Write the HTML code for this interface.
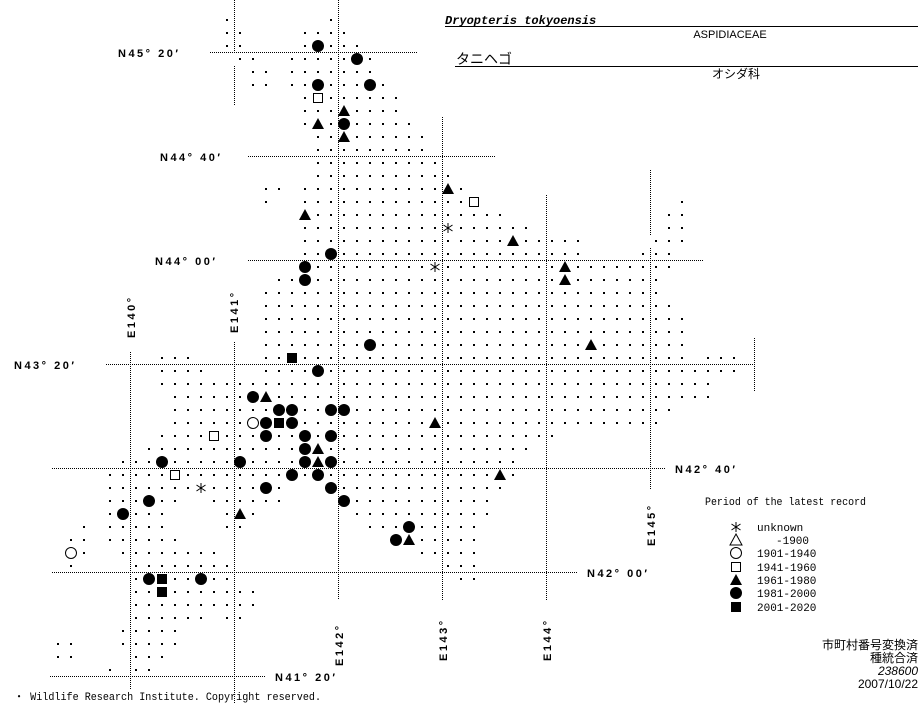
<!DOCTYPE html>
<html><head><meta charset="utf-8">
<style>
html,body{margin:0;padding:0;background:#fff;}
svg{display:block;}
.lab{font-family:"Liberation Sans",sans-serif;font-weight:bold;font-size:11px;letter-spacing:2.5px;fill:#000;}
.mono{font-family:"Liberation Mono",monospace;font-size:11px;fill:#000;}
.jp{font-family:"Liberation Sans","Noto Sans CJK JP",sans-serif;font-size:12px;fill:#000;}
</style></head>
<body>
<svg id="s" width="923" height="703" viewBox="0 0 923 703" xmlns="http://www.w3.org/2000/svg">
<g stroke="#000" stroke-width="1" stroke-dasharray="1 1" fill="none">
<line x1="210" y1="52.5" x2="418" y2="52.5"/>
<line x1="248" y1="156.5" x2="495" y2="156.5"/>
<line x1="248" y1="260.5" x2="703" y2="260.5"/>
<line x1="106" y1="364.5" x2="755" y2="364.5"/>
<line x1="52" y1="468.5" x2="665" y2="468.5"/>
<line x1="52" y1="572.5" x2="578" y2="572.5"/>
<line x1="50" y1="676.5" x2="265" y2="676.5"/>
<line x1="234.5" y1="0" x2="234.5" y2="52"/>
<line x1="234.5" y1="66" x2="234.5" y2="105"/>
<line x1="234.5" y1="342" x2="234.5" y2="703"/>
<line x1="130.5" y1="352" x2="130.5" y2="690"/>
<line x1="338.5" y1="0" x2="338.5" y2="600"/>
<line x1="442.5" y1="117" x2="442.5" y2="600"/>
<line x1="546.5" y1="195" x2="546.5" y2="600"/>
<line x1="650.5" y1="170" x2="650.5" y2="235"/>
<line x1="650.5" y1="248" x2="650.5" y2="490"/>
<line x1="754.5" y1="338" x2="754.5" y2="392"/>
</g>
<g id="dots" fill="#000"></g>
<g id="sym"></g>
<g class="lab">
<text x="118" y="57">N45° 20′</text>
<text x="160" y="161">N44° 40′</text>
<text x="155" y="265">N44° 00′</text>
<text x="14" y="369">N43° 20′</text>
<text x="675" y="473">N42° 40′</text>
<text x="587" y="577">N42° 00′</text>
<text x="275" y="681">N41° 20′</text>
<text transform="translate(135,338) rotate(-90)">E140°</text>
<text transform="translate(238,333) rotate(-90)">E141°</text>
<text transform="translate(343,666) rotate(-90)">E142°</text>
<text transform="translate(447,661) rotate(-90)">E143°</text>
<text transform="translate(551,661) rotate(-90)">E144°</text>
<text transform="translate(655,546) rotate(-90)">E145°</text>
</g>
<text x="445" y="24" style="font-family:'Liberation Mono',monospace;font-weight:bold;font-style:italic;font-size:12px;">Dryopteris tokyoensis</text>
<line x1="445" y1="26.5" x2="918" y2="26.5" stroke="#000"/>
<text x="730" y="38" text-anchor="middle" style="font-family:'Liberation Sans',sans-serif;font-size:11px;">ASPIDIACEAE</text>
<text x="456" y="64" class="jp" style="font-size:14px;">タニヘゴ</text>
<line x1="455" y1="66.5" x2="918" y2="66.5" stroke="#000"/>
<text x="712" y="78" class="jp">オシダ科</text>
<text x="705" y="505" class="mono" textLength="161" lengthAdjust="spacingAndGlyphs">Period of the latest record</text>
<g class="mono">
<text x="757" y="531">unknown</text>
<text x="776" y="544">-1900</text>
<text x="757" y="557">1901-1940</text>
<text x="757" y="571">1941-1960</text>
<text x="757" y="584">1961-1980</text>
<text x="757" y="597">1981-2000</text>
<text x="757" y="611">2001-2020</text>
</g>
<g class="jp" text-anchor="end">
<text x="918" y="649">市町村番号変換済</text>
<text x="918" y="662">種統合済</text>
<text x="918" y="675" style="font-style:italic">238600</text>
<text x="918" y="688">2007/10/22</text>
</g>
<text x="14" y="700" class="mono" textLength="307" lengthAdjust="spacingAndGlyphs">・ Wildlife Research Institute. Copyright reserved.</text>
</svg>
<script>
var R={0:[[17,17],[25,25]],1:[[17,18],[23,26]],2:[[17,18],[23,27]],3:[[18,19],[22,28]],4:[[19,20],[22,28]],
5:[[19,20],[22,29]],6:[[23,30]],7:[[23,30]],8:[[23,31]],9:[[24,32]],10:[[24,32]],11:[[24,33]],12:[[24,34]],
13:[[20,21],[23,35]],14:[[20,20],[23,36],[52,52]],15:[[23,38],[51,52]],16:[[23,40],[51,52]],17:[[23,44],[50,52]],
18:[[23,44],[49,51]],19:[[23,51]],20:[[21,50]],21:[[20,50]],22:[[20,51]],23:[[20,52]],24:[[20,52]],25:[[20,52]],
26:[[12,14],[20,52],[54,56]],27:[[12,15],[20,56]],28:[[12,54]],29:[[13,54]],30:[[13,51]],31:[[13,50]],32:[[12,42]],
33:[[11,40]],34:[[9,39]],35:[[8,39]],36:[[8,21],[25,38]],37:[[8,13],[16,21],[26,37]],38:[[8,12],[17,19],[27,37]],
39:[[6,6],[8,12],[17,18],[28,36]],40:[[5,6],[8,13],[30,36]],41:[[5,6],[9,16],[32,36]],42:[[5,5],[10,17],[34,36]],
43:[[10,17],[35,36]],44:[[10,19]],45:[[10,19]],46:[[10,15],[17,18]],47:[[9,13]],48:[[4,5],[9,13]],49:[[4,5],[10,12]],50:[[8,8],[10,11]]};
var S={c:[[24,2],[27,3],[24,5],[28,5],[26,8],[25,18],[23,19],[23,20],[28,25],[24,27],[19,29],[21,30],[22,30],[25,30],[26,30],[20,31],[22,31],[20,32],[23,32],[25,32],[23,33],[12,34],[18,34],[23,34],[25,34],[22,35],[24,35],[20,36],[25,36],[11,37],[26,37],[9,38],[31,39],[30,40],[11,43],[15,43]],
t:[[26,7],[24,8],[26,9],[34,13],[23,15],[39,17],[43,19],[43,20],[45,25],[20,29],[33,31],[24,33],[24,34],[38,35],[18,38],[31,40]],
q:[[24,6],[36,14],[16,32],[13,35]],f:[[22,26],[21,31],[12,43],[12,44]],o:[[19,31],[5,41]],a:[[34,16],[33,19],[15,36]]};
var occ={};for(var k in S)S[k].forEach(function(p){occ[p[0]+','+p[1]]=1;});
var X=function(c){return 6+13*c;},Y=function(r){return 20+13*r;};
var d='';for(var r in R){R[r].forEach(function(g){for(var c=g[0];c<=g[1];c++){if(occ[c+','+r])continue;d+='<rect x="'+(X(c)-1)+'" y="'+(Y(+r)-1)+'" width="2" height="2"/>';}});}
document.getElementById('dots').innerHTML=d;
function sym(k,x,y){
 if(k=='c')return '<circle cx="'+x+'" cy="'+y+'" r="6" fill="#000"/>';
 if(k=='o')return '<circle cx="'+x+'" cy="'+y+'" r="5.5" fill="#fff" stroke="#000"/>';
 if(k=='t')return '<polygon points="'+x+','+(y-6)+' '+(x+6)+','+(y+5)+' '+(x-6)+','+(y+5)+'" fill="#000"/>';
 if(k=='T')return '<polygon points="'+x+','+(y-6)+' '+(x+6)+','+(y+5)+' '+(x-6)+','+(y+5)+'" fill="#fff" stroke="#000"/>';
 if(k=='q')return '<rect x="'+(x-4.5)+'" y="'+(y-4.5)+'" width="9" height="9" fill="#fff" stroke="#000"/>';
 if(k=='f')return '<rect x="'+(x-5)+'" y="'+(y-5)+'" width="10" height="10" fill="#000"/>';
 if(k=='a')return '<g stroke="#000" stroke-width="1"><line x1="'+x+'" y1="'+(y-5)+'" x2="'+x+'" y2="'+(y+5)+'"/><line x1="'+(x-4.5)+'" y1="'+(y-3)+'" x2="'+(x+4.5)+'" y2="'+(y+3)+'"/><line x1="'+(x-4.5)+'" y1="'+(y+3)+'" x2="'+(x+4.5)+'" y2="'+(y-3)+'"/></g>';
}
var s='';for(var k in S)S[k].forEach(function(p){s+=sym(k,X(p[0]),Y(p[1]));});
s+=sym('a',736,527)+sym('T',736,540)+sym('o',736,553)+sym('q',736,567)+sym('t',736,580)+sym('c',736,593)+sym('f',736,607);
document.getElementById('sym').innerHTML=s;
</script>
</body></html>
